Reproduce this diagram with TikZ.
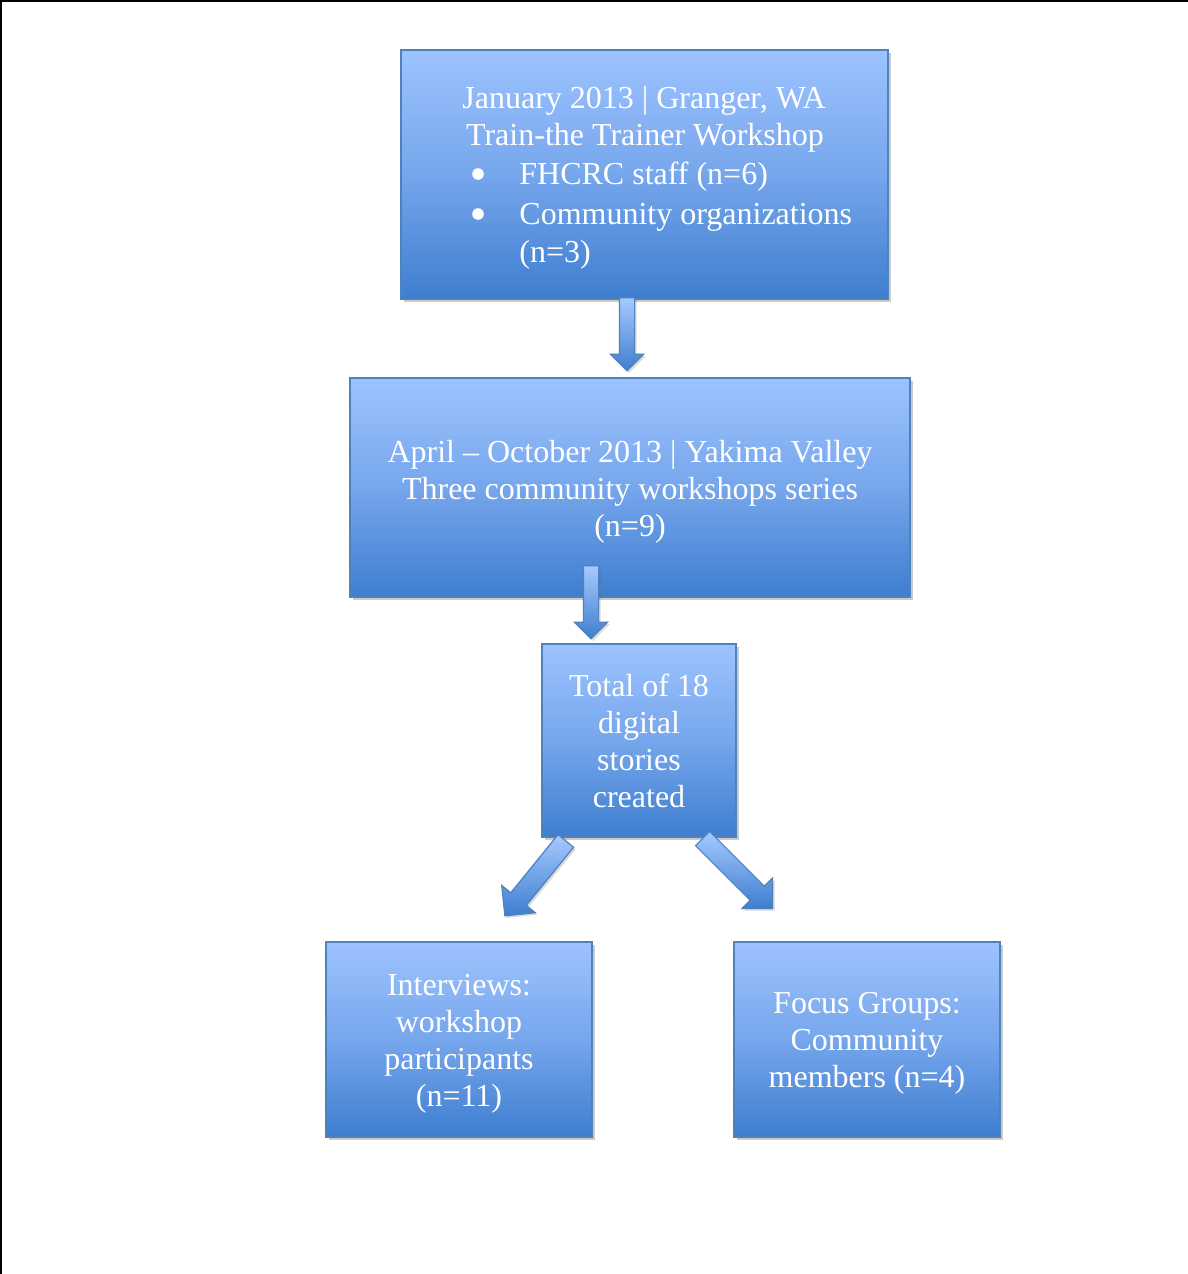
\documentclass[tikz,border=0pt]{standalone}
\usepackage{fontspec}
\setmainfont{Liberation Serif}
\usetikzlibrary{shapes.arrows,shadows,calc}
\definecolor{boxtop}{RGB}{157,195,255}
\definecolor{boxmid}{RGB}{118,166,236}
\definecolor{boxbot}{RGB}{62,126,207}
\definecolor{boxline}{RGB}{79,129,189}
\tikzset{
  box/.style={draw=boxline, line width=1pt, top color=boxtop, bottom color=boxbot, middle color=boxmid,
    drop shadow={shadow xshift=1.5pt, shadow yshift=-1.5pt, opacity=0.35, fill=black!60},
    inner sep=0pt},
  boxtext/.style={text=white, font=\fontsize{16}{18.5}\selectfont, inner sep=0pt, align=center},
  bulletdot/.style={circle, fill=white, inner sep=0pt, minimum size=5.8pt},
  blockarrow/.style={single arrow, draw=boxline, line width=0.6pt, top color=boxtop!90!white, bottom color=boxbot,
    single arrow tip angle=90, inner xsep=0pt, text height=0pt, text depth=0pt,
    drop shadow={shadow xshift=1pt, shadow yshift=-1pt, opacity=0.25, fill=black!60}},
}
% #1 start, #2 tip, #3 half shaft width, #4 head extend
\newcommand{\myblockarrow}[4]{%
  \path let \p1=(#1), \p2=(#2), \n1={atan2(\y2-\y1,\x2-\x1)}, \n2={veclen(\x2-\x1,\y2-\y1)} in
    node[blockarrow, minimum height=\n2, inner ysep=#3, single arrow head extend=#4, rotate=\n1] at ($(\p1)!0.5!(\p2)$) {};}
\begin{document}
\begin{tikzpicture}[x=0.5pt,y=-0.5pt]
\useasboundingbox (0,0) rectangle (1188,1274);
\draw[line width=1.3pt] (0,1.2) coordinate (tl) -- (1188,1.2) coordinate (tr);
\draw[line width=1.3pt] (1.2,0) coordinate (lt) -- (1.2,1274) coordinate (lb);

\node[box, minimum width=243.5pt, minimum height=124.5pt] (b1) at (644.5,174.5) {};
\node[boxtext, anchor=base] (t11) at (644,108) {January 2013 | Granger, WA};
\node[boxtext, anchor=base] (t12) at (645,145) {Train-the Trainer Workshop};
\node[bulletdot] (u1) at (478,174) {};
\node[boxtext, anchor=base west] (t13) at (519,184) {FHCRC staff (n=6)};
\node[bulletdot] (u2) at (478,214) {};
\node[boxtext, anchor=base west] (t14) at (519,224) {Community organizations};
\node[boxtext, anchor=base west] (t15) at (519,262) {(n=3)};

\node[box, minimum width=280pt, minimum height=109.5pt] (b2) at (630,487.5) {};
\node[boxtext] (t2) at ($(b2.center)+(0,4)$)
  {April – October 2013 | Yakima Valley\\Three community workshops series\\(n=9)};
\node[box, minimum width=97pt, minimum height=96.5pt] (b3) at (639,740.5) {};
\node[boxtext] (t3) at ($(b3.center)+(0,0)$)
  {Total of 18\\digital\\stories\\created};
\node[box, minimum width=133pt, minimum height=97.5pt] (b4) at (459,1039.5) {};
\node[boxtext] (t4) at ($(b4.center)+(0,4)$)
  {Interviews:\\workshop\\participants\\(n=11)};
\node[box, minimum width=133pt, minimum height=97.5pt] (b5) at (867,1039.5) {};
\node[boxtext] (t5) at ($(b5.center)+(0,4)$)
  {Focus Groups:\\Community\\members (n=4)};

\coordinate (a1s) at (627,294);
\coordinate (a1e) at (627,367);
\coordinate (a2s) at (591,562);
\coordinate (a2e) at (591,635);
\coordinate (a3s) at (569,837);
\coordinate (a3e) at (508,912);
\coordinate (a4s) at (699,835);
\coordinate (a4e) at (769,905);
\myblockarrow{a1s}{a1e}{3.5pt}{4.5pt}
\myblockarrow{a2s}{a2e}{3.5pt}{4.5pt}
\myblockarrow{a3s}{a3e}{4.7pt}{5.8pt}
\myblockarrow{a4s}{a4e}{4.7pt}{5.8pt}
\end{tikzpicture}
\end{document}
